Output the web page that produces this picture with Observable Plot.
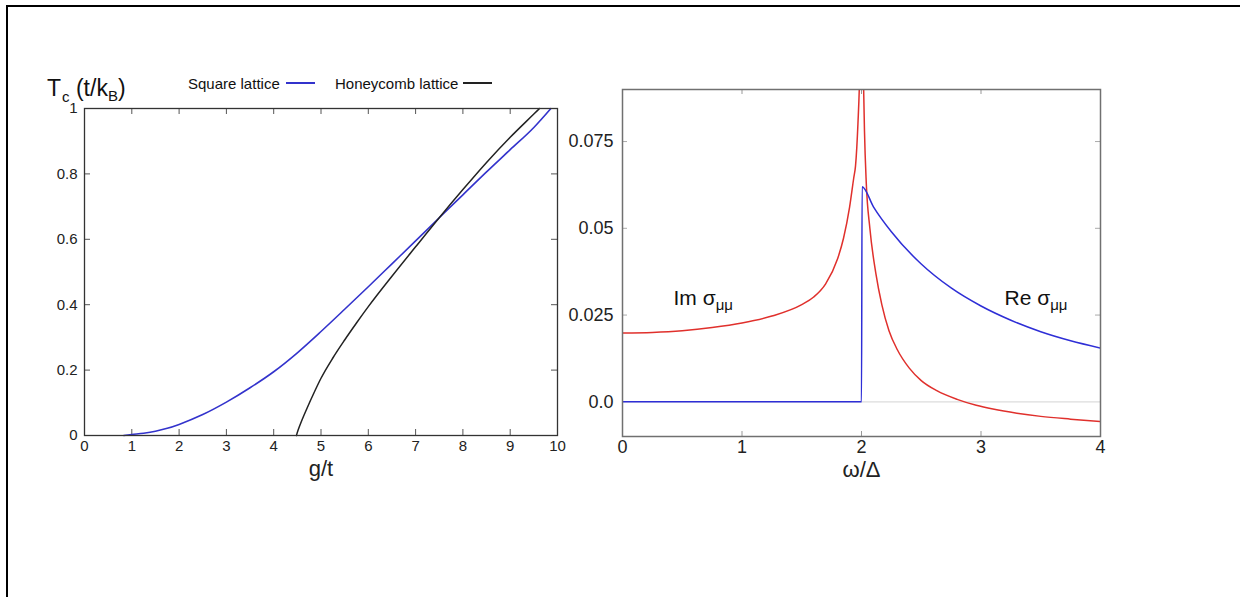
<!DOCTYPE html>
<html>
<head>
<meta charset="utf-8">
<script src="https://cdn.jsdelivr.net/npm/d3@7"></script>
<script src="https://cdn.jsdelivr.net/npm/@observablehq/plot@0.6"></script>
<style>
  html, body { margin: 0; padding: 0; background: #fff; }
  #wrap { position: relative; width: 1240px; height: 597px; overflow: hidden; background: #fff;
          font-family: "Liberation Sans", Arial, sans-serif; color: #111; }
  .abs { position: absolute; white-space: nowrap; line-height: 1; }
</style>
</head>
<body>
<div id="wrap">
  <div id="left" class="abs" style="left:0;top:0;"></div>
  <div id="right" class="abs" style="left:562px;top:0;"></div>

  <div class="abs" style="left:47px;top:77px;font-size:23px;">T<span style="font-size:15px;position:relative;top:6px;margin-left:1px;">c</span> (t/k<span style="font-size:15px;position:relative;top:5px;">B</span>)</div>

  <div class="abs" style="left:188px;top:76px;font-size:15px;">Square lattice</div>
  <div class="abs" style="left:286px;top:82px;width:29px;height:2px;background:#3333cc;"></div>
  <div class="abs" style="left:335px;top:76px;font-size:15px;">Honeycomb lattice</div>
  <div class="abs" style="left:463px;top:82px;width:29px;height:2px;background:#222;"></div>

  <div class="abs" style="left:6px;top:5px;width:1234px;height:2px;background:#000;"></div>
  <div class="abs" style="left:6px;top:5px;width:2px;height:592px;background:#000;"></div>
</div>
<script>
// ---------- Left panel: Tc vs g/t ----------
const gTicks = [0, 1, 2, 3, 4, 5, 6, 7, 8, 9, 10];
const gTickLabels = ["0", "1", "2", "3", "4", "5", "6", "7", "8", "9", "10"];
const tTicks = [0, 0.2, 0.4, 0.6, 0.8, 1];
const tTickLabels = ["0", "0.2", "0.4", "0.6", "0.8", "1"];

const squareG = [0.83, 1.0, 1.25, 1.5, 1.75, 2.0, 2.5, 3.0, 3.5, 4.0, 4.5, 5.0, 5.5, 6.0, 6.5, 7.0, 7.5, 8.0, 8.5, 9.0, 9.5, 9.86];
const squareT = [0, 0.003, 0.007, 0.013, 0.022, 0.034, 0.064, 0.102, 0.146, 0.195, 0.253, 0.318, 0.386, 0.455, 0.525, 0.595, 0.666, 0.736, 0.806, 0.874, 0.942, 1.0];

const honeyG = [4.48, 4.52, 4.6, 4.7, 4.85, 5.0, 5.25, 5.5, 5.75, 6.0, 6.5, 7.0, 7.5, 8.0, 8.5, 9.0, 9.5, 9.62];
const honeyT = [0, 0.018, 0.048, 0.082, 0.13, 0.175, 0.237, 0.292, 0.344, 0.394, 0.487, 0.577, 0.666, 0.752, 0.835, 0.912, 0.983, 1.0];

// ---------- Right panel: sigma vs omega/Delta ----------
const wTicks = [0, 1, 2, 3, 4];
const wTickLabels = ["0", "1", "2", "3", "4"];
const sTicks = [0, 0.025, 0.05, 0.075];
const sTickLabels = ["0.0", "0.025", "0.05", "0.075"];

const omegaIm = [0, 0.25, 0.5, 0.75, 1.0, 1.25, 1.5, 1.6, 1.7, 1.8, 1.85, 1.9, 1.935, 1.95, 1.97, 1.985, 2.0,
                 2.018, 2.025, 2.04, 2.07, 2.12, 2.17, 2.23, 2.3, 2.4, 2.5, 2.63, 2.8, 2.96, 3.1, 3.3, 3.5, 3.75, 4.0];
const imSigma = [0.0198, 0.0200, 0.0205, 0.0214, 0.0227, 0.0247, 0.0280, 0.0302, 0.0340, 0.0412, 0.0472, 0.0560, 0.0645, 0.0680, 0.0800, 0.0950, 0.1300,
                 0.0900, 0.0780, 0.0630, 0.0500, 0.0370, 0.0280, 0.0205, 0.0150, 0.0097, 0.0061, 0.0032, 0.0007, -0.0010, -0.0021, -0.0033, -0.0042, -0.0050, -0.0057];

const omegaRe = [0, 2.0, 2.005, 2.1, 2.25, 2.5, 2.75, 3.0, 3.25, 3.5, 3.75, 4.0];
const reSigma = [0, 0, 0.062, 0.0562, 0.049, 0.0397, 0.0328, 0.0276, 0.0235, 0.0202, 0.0176, 0.0155];

const curveLabels = ["Im σμμ", "Re σμμ"];
const curveLabelX = [0.427, 3.197];
const curveLabelY = [0.028, 0.028];

const fmt = (ticks, labels) => d => labels[ticks.indexOf(d)];
const zipXY = (xs, ys) => xs.map((x, i) => ({x, y: ys[i]}));

const FONT = '"Liberation Sans", Arial, sans-serif';

// Left plot (frame spans x 84..557, y 108..435)
const L = {w: 576, h: 500, ml: 84, mr: 19, mt: 108, mb: 65};
const LiH = L.h - L.mt - L.mb, LiW = L.w - L.ml - L.mr;
const left = Plot.plot({
  width: L.w, height: L.h,
  marginLeft: L.ml, marginRight: L.mr, marginTop: L.mt, marginBottom: L.mb,
  x: {domain: [0, 10]},
  y: {domain: [0, 1]},
  style: {fontFamily: FONT, fontSize: "15px", color: "#222", background: "transparent", overflow: "visible"},
  marks: [
    Plot.tickX(gTicks.slice(1, -1), {x: d => d, insetTop: LiH - 6, stroke: "#555"}),
    Plot.tickX(gTicks.slice(1, -1), {x: d => d, insetBottom: LiH - 6, stroke: "#555"}),
    Plot.tickY(tTicks.slice(1, -1), {y: d => d, insetRight: LiW - 6, stroke: "#555"}),
    Plot.tickY(tTicks.slice(1, -1), {y: d => d, insetLeft: LiW - 6, stroke: "#555"}),
    Plot.axisX(gTicks, {anchor: "bottom", tickSize: 0, tickPadding: 5, tickFormat: fmt(gTicks, gTickLabels), label: null}),
    Plot.axisY(tTicks, {anchor: "left", tickSize: 0, tickPadding: 7, tickFormat: fmt(tTicks, tTickLabels), label: null}),
    Plot.line(zipXY(squareG, squareT), {x: "x", y: "y", stroke: "#3333cc", strokeWidth: 1.6, curve: "monotone-x"}),
    Plot.line(zipXY(honeyG, honeyT), {x: "x", y: "y", stroke: "#222", strokeWidth: 1.5, curve: "monotone-x"}),
    Plot.frame({stroke: "#333", strokeWidth: 1.3}),
    Plot.text(["g/t"], {frameAnchor: "bottom", dy: 33, fontSize: 22, lineAnchor: "middle"})
  ]
});
document.getElementById("left").appendChild(left);

// Right plot (frame spans x 622..1100, y 89..436)
const R = {w: 558, h: 500, ml: 60, mr: 20, mt: 89, mb: 64};
const RiH = R.h - R.mt - R.mb, RiW = R.w - R.ml - R.mr;
const labelsData = curveLabels.map((t, i) => ({t, x: curveLabelX[i], y: curveLabelY[i]}));
const right = Plot.plot({
  width: R.w, height: R.h,
  marginLeft: R.ml, marginRight: R.mr, marginTop: R.mt, marginBottom: R.mb,
  x: {domain: [0, 4]},
  y: {domain: [-0.01, 0.09]},
  style: {fontFamily: FONT, fontSize: "18px", color: "#222", background: "transparent", overflow: "visible"},
  marks: [
    Plot.ruleY([0], {stroke: "#dcdcdc", strokeWidth: 1.2}),
    Plot.tickX(wTicks.slice(1, -1), {x: d => d, insetTop: RiH - 5, stroke: "#999"}),
    Plot.tickX(wTicks.slice(1, -1), {x: d => d, insetBottom: RiH - 5, stroke: "#999"}),
    Plot.tickY(sTicks.slice(1), {y: d => d, insetRight: RiW - 5, stroke: "#aaa"}),
    Plot.tickY(sTicks.slice(1), {y: d => d, insetLeft: RiW - 5, stroke: "#aaa"}),
    Plot.axisX(wTicks, {anchor: "bottom", tickSize: 0, tickPadding: 4, tickFormat: fmt(wTicks, wTickLabels), label: null}),
    Plot.axisY(sTicks, {anchor: "left", tickSize: 0, tickPadding: 9, tickFormat: fmt(sTicks, sTickLabels), label: null}),
    Plot.line(zipXY(omegaIm, imSigma), {x: "x", y: "y", stroke: "#e0302c", strokeWidth: 1.5, curve: "monotone-x", clip: true}),
    Plot.line(zipXY(omegaRe, reSigma), {x: "x", y: "y", stroke: "#2e2ed6", strokeWidth: 1.5, curve: "monotone-x", clip: true}),
    Plot.frame({stroke: "#707070", strokeWidth: 1.5}),
    Plot.text(labelsData, {x: "x", y: "y", text: "t", textAnchor: "start", lineAnchor: "bottom", fontSize: 21, fill: "#111"}),
    Plot.text(["ω/Δ"], {frameAnchor: "bottom", dy: 33, fontSize: 22, lineAnchor: "middle"})
  ]
});
document.getElementById("right").appendChild(right);

// Turn the trailing "μμ" of the curve labels into a subscript
d3.select(right).selectAll("text").each(function () {
  const t = this.textContent;
  if (curveLabels.includes(t)) {
    const main = t.slice(0, -2), sub = t.slice(-2);
    const sel = d3.select(this);
    sel.text(null);
    sel.append("tspan").text(main);
    sel.append("tspan").attr("font-size", 15).attr("dy", "0.35em").text(sub);
  }
});
</script>
</body>
</html>
